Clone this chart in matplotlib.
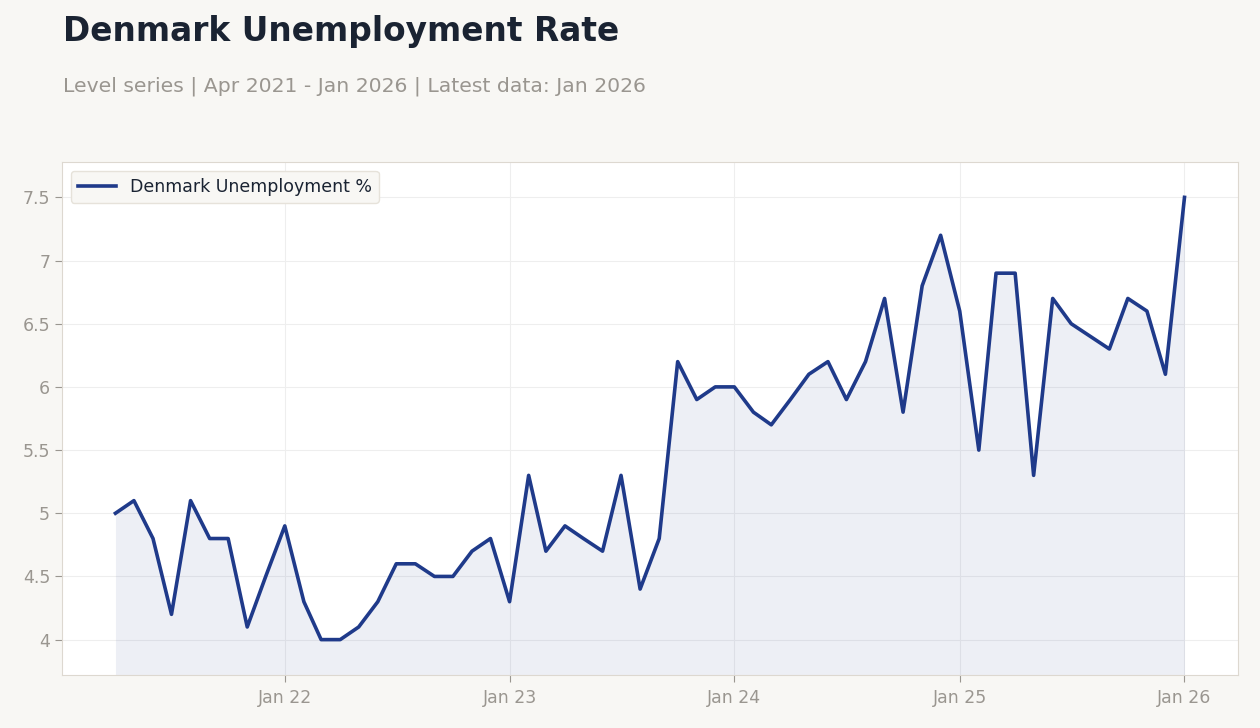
import numpy as np
import pandas as pd
import matplotlib
matplotlib.use("Agg")
import matplotlib.pyplot as plt
import matplotlib.dates as mdates
from matplotlib.ticker import FuncFormatter

# monthly data, Apr 2021 - Jan 2026
dates = pd.date_range("2021-04-01", "2026-01-01", freq="MS")
values = [5.0, 5.1, 4.8, 4.2, 5.1, 4.8, 4.8, 4.1, 4.5,          # 2021
          4.9, 4.3, 4.0, 4.0, 4.1, 4.3, 4.6, 4.6, 4.5, 4.5, 4.7, 4.8,   # 2022
          4.3, 5.3, 4.7, 4.9, 4.8, 4.7, 5.3, 4.4, 4.8, 6.2, 5.9, 6.0,   # 2023
          6.0, 5.8, 5.7, 5.9, 6.1, 6.2, 5.9, 6.2, 6.7, 5.8, 6.8, 7.2,   # 2024
          6.6, 5.5, 6.9, 6.9, 5.3, 6.7, 6.5, 6.4, 6.3, 6.7, 6.6, 6.1,   # 2025
          7.5]                                                           # 2026
series_name = "Denmark Unemployment %"

bg = "#f8f7f4"
line_c = "#1f3a8a"
muted = "#9a9690"

fig = plt.figure(figsize=(12.6, 7.28), dpi=100, facecolor=bg)
ax = fig.add_axes([0.0492, 0.0728, 0.9333, 0.7047])
ax.set_facecolor("white")

ax.plot(dates, values, color=line_c, lw=2.6, label=series_name, zorder=3)
ax.margins(x=0.05, y=0.08)
ax.autoscale_view()
ylo, yhi = ax.get_ylim()
ax.fill_between(dates, values, ylo, color=line_c, alpha=0.08, lw=0, zorder=2)
ax.set_ylim(ylo, yhi)

ax.xaxis.set_major_locator(mdates.YearLocator(month=1))
ax.xaxis.set_major_formatter(mdates.DateFormatter("%b %y"))
ax.yaxis.set_major_formatter(FuncFormatter(lambda v, p: f"{v:g}"))

ax.grid(True, color="#eeeeee", lw=0.8, zorder=0)
ax.set_axisbelow(True)
for s in ax.spines.values():
    s.set_color("#ddd8d0")
ax.tick_params(colors=muted, labelsize=12.5, length=5, width=0.8)
ax.tick_params(axis="x", pad=5)

leg = ax.legend(loc="upper left", fontsize=12.5, frameon=True, facecolor=bg,
                edgecolor="#e6e2da", framealpha=1, handlelength=2.2)
for t in leg.get_texts():
    t.set_color("#1a2332")

fig.text(0.05, 0.943, "Denmark Unemployment Rate", fontsize=23.7, fontweight="bold",
         color="#1a2332")
fig.text(0.05, 0.875, "Level series | Apr 2021 - Jan 2026 | Latest data: Jan 2026",
         fontsize=14.65, color=muted)

fig.savefig("out.png", dpi=100, facecolor=bg)
